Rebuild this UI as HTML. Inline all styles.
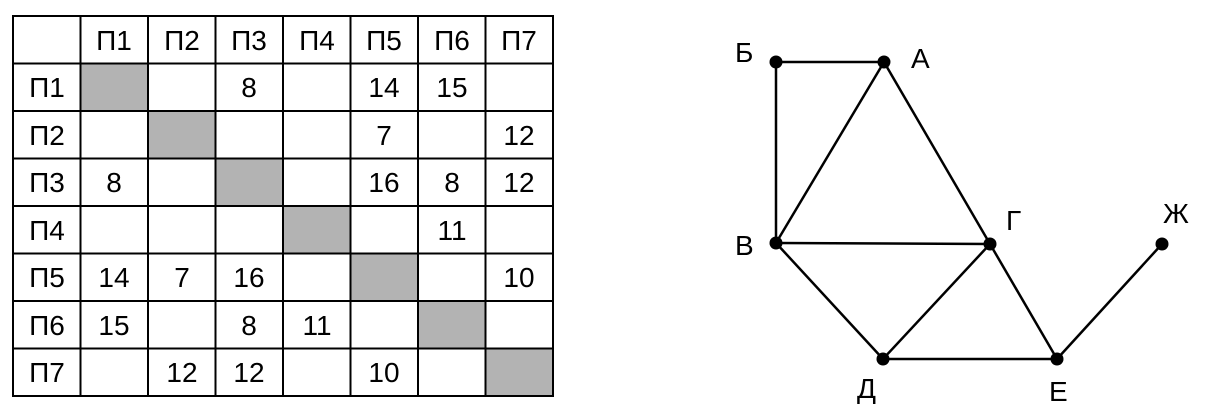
<!DOCTYPE html>
<html><head><meta charset="utf-8"><style>
body{margin:0;background:#fff;width:1216px;height:417px;overflow:hidden}
</style></head><body>
<svg width="1216" height="417" style="position:absolute;left:0;top:0" font-family="Liberation Sans, DejaVu Sans, sans-serif" font-size="28">
<g fill="#b3b3b3">
<rect x="80.5" y="63.5" width="67.5" height="47.5"/>
<rect x="148" y="111" width="67.5" height="47.5"/>
<rect x="215.5" y="158.5" width="67.5" height="47.5"/>
<rect x="283" y="206" width="67.5" height="47.5"/>
<rect x="350.5" y="253.5" width="67.5" height="47.5"/>
<rect x="418" y="301" width="67.5" height="47.5"/>
<rect x="485.5" y="348.5" width="67.5" height="47.5"/>
</g>
<g stroke="#000" stroke-width="2" fill="none">
<rect x="13" y="16" width="540" height="380"/>
<line x1="80.5" y1="16" x2="80.5" y2="396"/><line x1="148" y1="16" x2="148" y2="396"/>
<line x1="215.5" y1="16" x2="215.5" y2="396"/><line x1="283" y1="16" x2="283" y2="396"/>
<line x1="350.5" y1="16" x2="350.5" y2="396"/><line x1="418" y1="16" x2="418" y2="396"/>
<line x1="485.5" y1="16" x2="485.5" y2="396"/>
<line x1="13" y1="63.5" x2="553" y2="63.5"/><line x1="13" y1="111" x2="553" y2="111"/>
<line x1="13" y1="158.5" x2="553" y2="158.5"/><line x1="13" y1="206" x2="553" y2="206"/>
<line x1="13" y1="253.5" x2="553" y2="253.5"/><line x1="13" y1="301" x2="553" y2="301"/>
<line x1="13" y1="348.5" x2="553" y2="348.5"/>
</g>
<g text-anchor="middle" fill="#000">
<text x="114" y="50">П1</text><text x="182" y="50">П2</text><text x="249" y="50">П3</text><text x="317" y="50">П4</text><text x="384" y="50">П5</text><text x="452" y="50">П6</text><text x="519" y="50">П7</text>
<text x="47" y="97">П1</text><text x="249" y="97">8</text><text x="384" y="97">14</text><text x="452" y="97">15</text>
<text x="47" y="145">П2</text><text x="384" y="145">7</text><text x="519" y="145">12</text>
<text x="47" y="192">П3</text><text x="114" y="192">8</text><text x="384" y="192">16</text><text x="452" y="192">8</text><text x="519" y="192">12</text>
<text x="47" y="240">П4</text><text x="452" y="240">11</text>
<text x="47" y="287">П5</text><text x="114" y="287">14</text><text x="182" y="287">7</text><text x="249" y="287">16</text><text x="519" y="287">10</text>
<text x="47" y="335">П6</text><text x="114" y="335">15</text><text x="249" y="335">8</text><text x="317" y="335">11</text>
<text x="47" y="382">П7</text><text x="182" y="382">12</text><text x="249" y="382">12</text><text x="384" y="382">10</text>
</g>
<g stroke="#000" stroke-width="2.5">
<line x1="776" y1="62" x2="884" y2="62"/>
<line x1="776" y1="62" x2="776" y2="243"/>
<line x1="884" y1="62" x2="776" y2="243"/>
<line x1="884" y1="62" x2="990" y2="244"/>
<line x1="776" y1="243" x2="990" y2="244"/>
<line x1="776" y1="243" x2="883" y2="359"/>
<line x1="990" y1="244" x2="883" y2="359"/>
<line x1="990" y1="244" x2="1057" y2="359"/>
<line x1="883" y1="359" x2="1057" y2="359"/>
<line x1="1057" y1="359" x2="1162" y2="244"/>
</g>
<g fill="#000">
<circle cx="776" cy="62" r="6.5"/><circle cx="884" cy="62" r="6.5"/><circle cx="776" cy="243" r="6.5"/>
<circle cx="990" cy="244" r="6.5"/><circle cx="1162" cy="244" r="6.5"/><circle cx="883" cy="359" r="6.5"/><circle cx="1057" cy="359" r="6.5"/>
</g>
<g fill="#000">
<text x="735" y="62">Б</text><text x="911" y="68">А</text><text x="735" y="255">В</text>
<text x="1006" y="230">Г</text><text x="1163" y="223">Ж</text><text x="857" y="398">Д</text><text x="1049" y="401">Е</text>
</g>
</svg>
</body></html>
